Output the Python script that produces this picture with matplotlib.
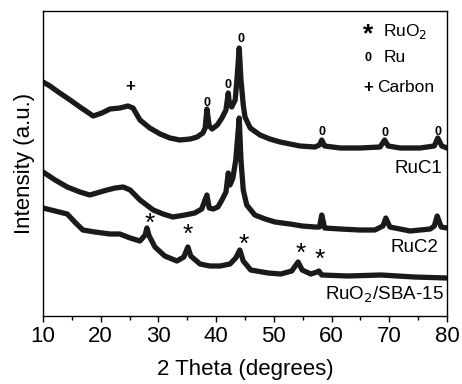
import matplotlib
matplotlib.use("Agg")
import matplotlib.pyplot as plt
from matplotlib.ticker import MultipleLocator

plt.rcParams['font.family'] = ['Liberation Sans', 'DejaVu Sans']

# 2 theta (deg) and intensity (a.u., stacked offsets included)
ruc1_x = [10.0, 11.2, 12.9, 14.7, 16.4, 18.7, 20.2, 21.6, 23.3, 24.7, 25.6, 26.8,
          28.5, 30.3, 32.0, 33.7, 35.5, 36.7, 37.7, 38.1, 38.4, 38.8, 39.3, 40.2,
          41.0, 41.7, 42.1, 42.3, 42.7, 43.3, 43.6, 44.0, 44.3, 44.7, 45.0, 45.9,
          47.6, 49.3, 51.1, 52.8, 54.5, 57.1, 57.9, 58.3, 58.8, 61.5, 64.9, 68.4,
          69.2, 69.8, 71.9, 75.3, 77.8, 78.4, 79.1, 80.0]
ruc1_y = [234, 230, 223, 216, 209, 200, 203, 207, 208, 210, 208, 196,
          188, 182, 178, 176, 177, 179, 183, 188, 207, 190, 187, 191,
          198, 206, 223, 212, 209, 216, 236, 268, 236, 211, 199, 188,
          181, 177, 174, 172, 170, 169, 171, 176, 170, 168, 168, 169,
          176, 170, 168, 168, 170, 178, 170, 168]

ruc2_x = [10.0, 12.1, 14.2, 16.4, 18.1, 19.9, 21.1, 22.5, 23.9, 25.1, 26.8, 29.1,
          30.8, 32.5, 34.6, 36.3, 37.5, 38.4, 38.8, 39.5, 40.3, 41.0, 41.7, 42.1,
          42.4, 42.9, 43.4, 44.0, 44.3, 44.7, 45.3, 46.7, 48.5, 50.2, 52.8, 54.9,
          57.1, 57.9, 58.3, 58.8, 61.5, 64.9, 67.5, 68.9, 69.4, 70.1, 73.6, 77.1,
          77.8, 78.3, 79.0, 80.0]
ruc2_y = [144, 136, 129, 124, 121, 124, 126, 128, 129, 126, 116, 106,
          102, 99, 101, 103, 107, 121, 108, 107, 109, 116, 124, 143,
          131, 138, 156, 198, 156, 126, 111, 101, 97, 94, 92, 90,
          89, 89, 101, 88, 87, 86, 86, 90, 98, 89, 85, 87,
          90, 100, 89, 88]

ruo2_x = [10.0, 12.1, 14.2, 15.5, 16.9, 19.0, 21.6, 23.3, 25.1, 26.8, 27.7, 28.0,
          28.4, 29.4, 31.1, 33.2, 34.4, 35.1, 35.6, 37.2, 38.9, 40.7, 42.4, 43.4,
          44.1, 44.7, 46.0, 49.0, 51.2, 53.1, 54.2, 54.9, 56.4, 57.5, 57.8, 58.3,
          62.8, 68.6, 74.3, 80.0]
ruo2_y = [108, 105, 102, 94, 86, 84, 82, 82, 78, 75, 81, 88,
          80, 69, 60, 55, 59, 69, 60, 52, 50, 50, 52, 58,
          66, 55, 46, 43, 42, 45, 54, 46, 42, 44, 45, 41,
          40, 41, 39, 38]

# phase markers
ru_peaks_x = [38.4, 42.1, 44.3, 58.3, 69.3, 78.5]
ru_peaks_y = [213, 231, 277, 184, 183, 184]
carbon_x = [25.1]
carbon_y = [229]
ruo2_peaks_x = [28.5, 35.1, 44.7, 54.7, 58.0]
ruo2_peaks_y = [92, 81, 71, 62, 56]

fig = plt.figure(figsize=(4.62, 3.84), dpi=100)
ax = fig.add_axes([43 / 462, 1 - 316 / 384, 404 / 462, 305 / 384])

for xs, ys in [(ruc1_x, ruc1_y), (ruc2_x, ruc2_y), (ruo2_x, ruo2_y)]:
    ax.plot(xs, ys, color='#1a1a1a', lw=3.8, solid_joinstyle='round')

for x, y in zip(ru_peaks_x, ru_peaks_y):
    ax.text(x, y, '0', fontsize=9, fontweight='bold', ha='center', va='center')
for x, y in zip(carbon_x, carbon_y):
    ax.text(x, y, '+', fontsize=12, fontweight='bold', ha='center', va='center')
for x, y in zip(ruo2_peaks_x, ruo2_peaks_y):
    ax.text(x, y, '*', fontsize=19, ha='center', va='center')

# legend drawn by hand like the original
ax.text(0.804, 0.922, '*', fontsize=19, fontweight='bold', ha='center', va='center',
        transform=ax.transAxes)
ax.text(0.842, 0.934, 'RuO$_2$', fontsize=12.5, ha='left', va='center', transform=ax.transAxes)
ax.text(0.804, 0.846, '0', fontsize=9, fontweight='bold', ha='center', va='center',
        transform=ax.transAxes)
ax.text(0.842, 0.846, 'Ru', fontsize=12.5, ha='left', va='center', transform=ax.transAxes)
ax.text(0.804, 0.748, '+', fontsize=12, fontweight='bold', ha='center', va='center',
        transform=ax.transAxes)
ax.text(0.827, 0.748, 'Carbon', fontsize=12.5, ha='left', va='center', transform=ax.transAxes)

ax.text(0.988, 0.482, 'RuC1', fontsize=13.5, ha='right', va='center', transform=ax.transAxes)
ax.text(0.978, 0.226, 'RuC2', fontsize=13.5, ha='right', va='center', transform=ax.transAxes)
ax.text(0.993, 0.069, 'RuO$_2$/SBA-15', fontsize=13.5, ha='right', va='center',
        transform=ax.transAxes)

ax.set_xlim(10, 80)
ax.set_ylim(0, 305)
ax.xaxis.set_major_locator(MultipleLocator(10))
ax.xaxis.set_minor_locator(MultipleLocator(5))
ax.tick_params(axis='x', which='both', direction='out', labelsize=16, width=1)
ax.tick_params(axis='x', which='major', length=4, pad=3)
ax.tick_params(axis='x', which='minor', length=3)
ax.set_yticks([])
for s in ax.spines.values():
    s.set_linewidth(1)
ax.set_xlabel('2 Theta (degrees)', fontsize=16, labelpad=9)
ax.set_ylabel('Intensity (a.u.)', fontsize=16, labelpad=6)

fig.savefig('out.png', dpi=100)
